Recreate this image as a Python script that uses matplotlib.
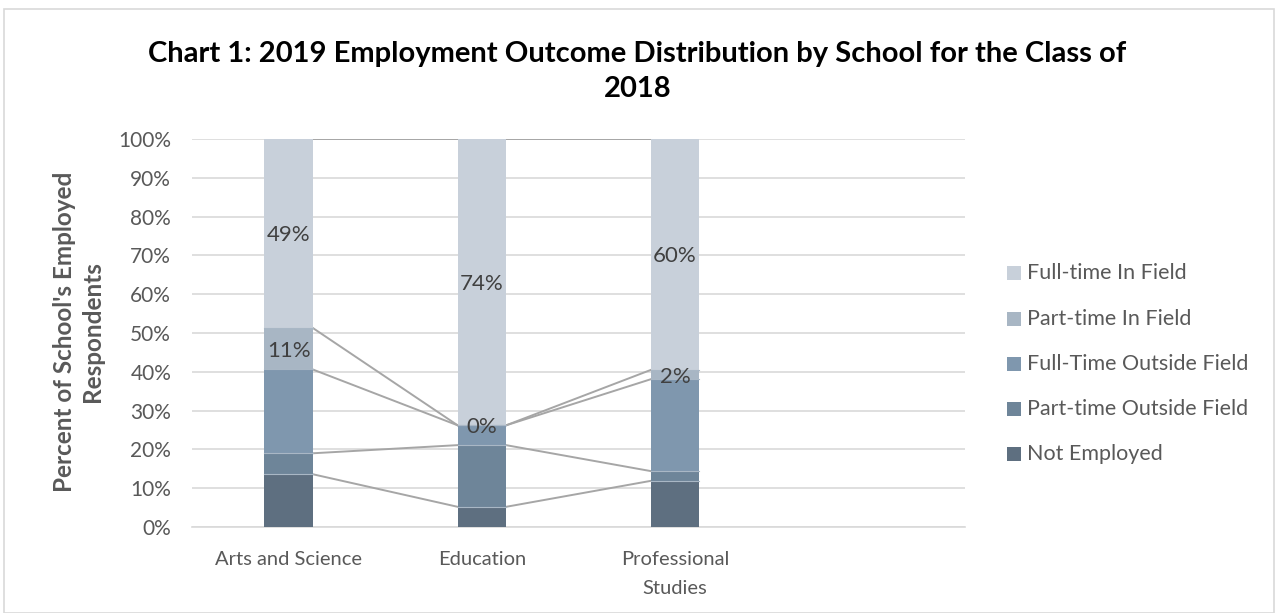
import matplotlib
matplotlib.use("Agg")
import matplotlib.pyplot as plt
from matplotlib.patches import Rectangle
import numpy as np

plt.rcParams['font.family'] = ['Lato', 'DejaVu Sans']

categories = ["Arts and Science", "Education", "Professional\nStudies", ""]
series_names = ["Not Employed", "Part-time Outside Field", "Full-Time Outside Field",
                "Part-time In Field", "Full-time In Field"]
not_employed = [13.6, 5.2, 11.9]
pt_outside = [5.4, 15.9, 2.5]
ft_outside = [21.6, 5.1, 23.7]
pt_in = [10.7, 0.0, 2.4]
ft_in = [48.7, 73.8, 59.5]
labels_pt_in = ["11%", "0%", "2%"]
labels_ft_in = ["49%", "74%", "60%"]

colors = ["#5E6F80", "#6E8599", "#7F97AE", "#A8B6C4", "#C8D0DA"]

fig = plt.figure(figsize=(12.75, 6.13), dpi=100)
fig.patches.append(Rectangle((4/1275, 0), 1 - 5/1275, 1 - 9/613, transform=fig.transFigure,
                             fill=False, edgecolor="#D9D9D9", linewidth=1.2))
ax = fig.add_axes([192/1275, 1 - 527/613, (965-192)/1275, (527-139)/613])

series = [not_employed, pt_outside, ft_outside, pt_in, ft_in]
n = len(not_employed)
x = np.arange(n)
w = 0.25
bottom = np.zeros(n)
tops = [bottom.copy()]
for vals, col, name in zip(series, colors, series_names):
    vals = np.array(vals)
    ax.bar(x, vals, w, bottom=bottom, color=col, edgecolor="none", label=name, zorder=3)
    bottom = bottom + vals
    tops.append(bottom.copy())

# thin separators between segments
for lvl in tops[1:-1]:
    for i in range(n):
        ax.plot([x[i]-w/2, x[i]+w/2], [lvl[i], lvl[i]], color="#A9B7C5", lw=0.8, zorder=4)

# series lines
for lvl in tops[1:]:
    for i in range(n-1):
        ax.plot([x[i]+w/2, x[i+1]-w/2], [lvl[i], lvl[i+1]], color="#A6A6A6", lw=1.4, zorder=2)

# data labels
for i in range(n):
    ax.text(x[i], tops[3][i] + pt_in[i]/2, labels_pt_in[i], ha="center", va="center_baseline",
            fontsize=16, color="#404040", zorder=5)
    ax.text(x[i], tops[4][i] + ft_in[i]/2, labels_ft_in[i], ha="center", va="center_baseline",
            fontsize=16, color="#404040", zorder=5)

ax.set_xlim(-0.5, 3.5)
ax.set_ylim(0, 100)
ax.set_yticks(np.arange(0, 101, 10))
ax.set_yticklabels([f"{v}%" for v in range(0, 101, 10)])
ax.set_xticks(np.arange(4))
ax.set_xticklabels(categories, linespacing=1.9, va="top")
ax.yaxis.grid(True, color="#D9D9D9", lw=1.2, zorder=0)
ax.set_axisbelow(True)
for s in ["top", "right", "left"]:
    ax.spines[s].set_visible(False)
ax.spines["bottom"].set_color("#D9D9D9")
ax.spines["bottom"].set_linewidth(1.2)
ax.tick_params(axis="y", length=0, labelsize=15, colors="#595959", pad=15)
ax.tick_params(axis="x", length=0, labelsize=14.5, colors="#595959", pad=17)

fig.text(65/1275, 1 - 332/613, "Percent of School's Employed", rotation=90, ha="center",
         va="center", fontsize=17.5, fontweight="bold", color="#595959")
fig.text(93/1275, 1 - 332/613, "Respondents", rotation=90, ha="center",
         va="center", fontsize=17.5, fontweight="bold", color="#595959")

fig.text(0.5, 1 - 54/613, "Chart 1: 2019 Employment Outcome Distribution by School for the Class of",
         ha="center", va="center", fontsize=21, fontweight="bold", color="black")
fig.text(0.5, 1 - 89/613, "2018", ha="center", va="center", fontsize=21,
         fontweight="bold", color="black")

# legend (top entry first)
leg_y = [273, 319, 364, 409, 454]
for yy, name, col in zip(leg_y, series_names[::-1], colors[::-1]):
    fig.patches.append(Rectangle((1007/1275, 1 - (yy + 7)/613), 14/1275, 14/613,
                                 transform=fig.transFigure, facecolor=col, edgecolor="none"))
    fig.text(1027/1275, 1 - yy/613, name, ha="left", va="center", fontsize=15.5,
             color="#595959")

fig.savefig("out.png", dpi=100)
